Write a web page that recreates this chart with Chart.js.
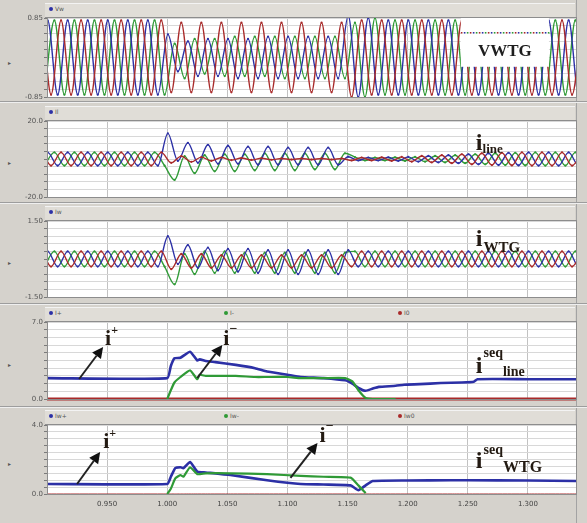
<!DOCTYPE html>
<html><head><meta charset="utf-8">
<script src="https://cdn.jsdelivr.net/npm/chart.js@4.4.1/dist/chart.umd.min.js"></script>
<style>
html,body{margin:0;padding:0;}
body{width:587px;height:523px;background:#d5d2cc;position:relative;overflow:hidden;font-family:"DejaVu Sans",sans-serif;}
.hdr{position:absolute;left:45px;width:530px;height:13px;background:#e0ddd7;border-bottom:1px solid #8e8e8e;border-top:1px solid #f3f3f3;}
.sep{position:absolute;left:0;width:587px;height:0;border-top:1px solid #9d9d9d;border-bottom:1px solid #efefef;}
.rline{position:absolute;left:576px;top:0;width:0;height:523px;border-left:1px solid #a3a3a3;}
canvas{position:absolute;left:0;}
.leg{position:absolute;font-size:6px;line-height:6px;color:#555;white-space:nowrap;}
.leg i{display:inline-block;width:4px;height:4px;border-radius:2px;margin-right:2px;vertical-align:middle;}
.mk{position:absolute;left:8px;font-size:6px;line-height:6px;color:#555;}
</style></head><body>
<div class="rline"></div>
<div class="hdr" style="top:3px"></div>
<div class="hdr" style="top:106px"></div>
<div class="hdr" style="top:206px"></div>
<div class="hdr" style="top:307px"></div>
<div class="hdr" style="top:410px"></div>
<div class="sep" style="top:101px"></div>
<div class="sep" style="top:202px"></div>
<div class="sep" style="top:303px"></div>
<div class="sep" style="top:406px"></div>
<div class="leg" style="left:49px;top:6px"><i style="background:#2c30a6"></i>Vw</div>
<div class="leg" style="left:49px;top:109px"><i style="background:#2c30a6"></i>Il</div>
<div class="leg" style="left:49px;top:209px"><i style="background:#2c30a6"></i>Iw</div>
<div class="leg" style="left:49px;top:310px"><i style="background:#2c30a6"></i>I+</div>
<div class="leg" style="left:224px;top:310px"><i style="background:#2f9a36"></i>I-</div>
<div class="leg" style="left:398px;top:310px"><i style="background:#a92a2a"></i>I0</div>
<div class="leg" style="left:49px;top:413px"><i style="background:#2c30a6"></i>Iw+</div>
<div class="leg" style="left:224px;top:413px"><i style="background:#2f9a36"></i>Iw-</div>
<div class="leg" style="left:398px;top:413px"><i style="background:#a92a2a"></i>Iw0</div>
<div class="mk" style="top:60px">&#9656;</div>
<div class="mk" style="top:160px">&#9656;</div>
<div class="mk" style="top:260px">&#9656;</div>
<div class="mk" style="top:362px">&#9656;</div>
<div class="mk" style="top:461px">&#9656;</div>
<script>
// ================= DATA =================
const timeTicks = [0.95, 1.00, 1.05, 1.10, 1.15, 1.20, 1.25, 1.30];
const HALF = 1 / 120;                 // spacing of successive extremes of one phase (s)
const startA = 0.8922, startB = 0.8978, startC = 0.8867; // time of first extreme per phase

// Panel 1: V_WTG, extremes per phase (pre-fault | fault | post-fault)
const vwtgA = [-0.8,0.8,-0.8,0.8,-0.8,0.8,-0.8,0.8,-0.8,0.8,-0.8,0.8,-0.8,
  0.5,-0.3,0.35,-0.4,0.4,-0.4,0.4,-0.45,0.4,-0.45,0.45,-0.45,0.45,-0.45,0.45,-0.45,0.45,-0.45,
  0.9,-0.85,0.85,-0.8,0.8,-0.8,0.8,-0.8,0.8,-0.8,0.8,-0.8,0.8,-0.8,0.8,-0.8,0.8,-0.8,0.8,-0.8,0.8,-0.8,0.8,-0.8,0.8];
const vwtgB = [-0.8,0.8,-0.8,0.8,-0.8,0.8,-0.8,0.8,-0.8,0.8,-0.8,0.8,-0.8,
  0.3,-0.45,0.4,-0.35,0.4,-0.4,0.45,-0.4,0.45,-0.4,0.45,-0.45,0.45,-0.45,0.45,-0.45,0.45,-0.45,
  0.75,-0.85,0.85,-0.8,0.8,-0.8,0.8,-0.8,0.8,-0.8,0.8,-0.8,0.8,-0.8,0.8,-0.8,0.8,-0.8,0.8,-0.8,0.8,-0.8,0.8,-0.8,0.8];
const vwtgC = [-0.8,0.8,-0.8,0.8,-0.8,0.8,-0.8,0.8,-0.8,0.8,-0.8,0.8,-0.8,0.8,
  -0.75,0.75,-0.75,0.75,-0.75,0.75,-0.75,0.75,-0.75,0.75,-0.75,0.75,-0.75,0.75,-0.75,0.75,-0.75,0.75,
  -0.85,0.8,-0.8,0.8,-0.8,0.8,-0.8,0.8,-0.8,0.8,-0.8,0.8,-0.8,0.8,-0.8,0.8,-0.8,0.8,-0.8,0.8,-0.8,0.8,-0.8,0.8];

// Panel 2: i_line
const ilineA = [-3.5,3.5,-3.5,3.5,-3.5,3.5,-3.5,3.5,-3.5,3.5,-3.5,3.5,-3.5,
  13.5,-1,8.5,-2,7.5,-2.5,7,-2.5,6.5,-3,6.5,-3,6,-3,6,-3,6,-3,
  1.2,-0.8,0.8,-0.8,0.9,-1,1.1,-1.4,1.6,-1.8,2,-2.2,2.5,-2.8,3,-3.2,3.3,-3.4,3.5,-3.5,3.5,-3.5,3.5,-3.5,3.5];
const ilineB = [-3.5,3.5,-3.5,3.5,-3.5,3.5,-3.5,3.5,-3.5,3.5,-3.5,3.5,-3.5,
  -11,1.5,-7.5,2,-6.5,2.5,-6.5,2.5,-6,3,-6,3,-6,3,-5.5,3,-5.5,3,
  1,-0.8,0.8,-0.8,0.9,-1,1.1,-1.4,1.6,-1.8,2,-2.2,2.5,-2.8,3,-3.2,3.3,-3.4,3.5,-3.5,3.5,-3.5,3.5,-3.5,3.5];
const ilineC = [-3.5,3.5,-3.5,3.5,-3.5,3.5,-3.5,3.5,-3.5,3.5,-3.5,3.5,-3.5,3.5,
  -2,1.5,-1.5,1,-1,0.8,-0.6,0.5,-0.5,0.4,-0.4,0.3,-0.3,0.3,-0.3,0.3,-0.3,0.3,
  -0.8,0.8,-0.8,0.9,-1,1.1,-1.4,1.6,-1.8,2,-2.2,2.5,-2.8,3,-3.2,3.3,-3.4,3.5,-3.5,3.5,-3.5,3.5,-3.5,3.5];

// Panel 3: i_WTG
const iwtgA = [-0.3,0.3,-0.3,0.3,-0.3,0.3,-0.3,0.3,-0.3,0.3,-0.3,0.3,-0.3,
  0.9,-0.2,0.55,-0.35,0.45,-0.45,0.4,-0.5,0.4,-0.55,0.35,-0.6,0.35,-0.6,0.35,-0.6,0.35,-0.6,
  0.35,-0.3,0.3,-0.3,0.3,-0.3,0.3,-0.3,0.3,-0.3,0.3,-0.3,0.3,-0.3,0.3,-0.3,0.3,-0.3,0.3,-0.3,0.3,-0.3,0.3,-0.3,0.3];
const iwtgB = [-0.3,0.3,-0.3,0.3,-0.3,0.3,-0.3,0.3,-0.3,0.3,-0.3,0.3,-0.3,
  -1.0,0.2,-0.6,0.3,-0.55,0.3,-0.55,0.25,-0.55,0.25,-0.55,0.25,-0.55,0.25,-0.55,0.25,-0.55,0.25,
  0.3,-0.3,0.3,-0.3,0.3,-0.3,0.3,-0.3,0.3,-0.3,0.3,-0.3,0.3,-0.3,0.3,-0.3,0.3,-0.3,0.3,-0.3,0.3,-0.3,0.3,-0.3,0.3];
const iwtgC = [-0.3,0.3,-0.3,0.3,-0.3,0.3,-0.3,0.3,-0.3,0.3,-0.3,0.3,-0.3,0.3,
  -0.4,0.2,-0.35,0.2,-0.35,0.15,-0.35,0.15,-0.35,0.15,-0.35,0.15,-0.35,0.15,-0.35,0.15,-0.35,0.15,
  -0.3,0.3,-0.3,0.3,-0.3,0.3,-0.3,0.3,-0.3,0.3,-0.3,0.3,-0.3,0.3,-0.3,0.3,-0.3,0.3,-0.3,0.3,-0.3,0.3,-0.3,0.3];

// Panel 4: sequence currents of the line
const seqLineTime = [0.9,1.0,1.003,1.006,1.011,1.019,1.025,1.027,1.032,1.04,1.057,1.073,1.083,1.1,1.111,1.13,1.148,1.154,1.159,1.165,1.171,1.176,1.19,1.197,1.21,1.2275,1.245,1.255,1.258,1.3,1.34];
const seqLinePos  = [1.9,1.9,3.0,3.7,3.75,4.3,3.5,3.6,3.45,3.35,3.1,2.8,2.5,2.2,2.0,1.9,1.7,1.4,1.0,0.75,0.95,1.1,1.2,1.3,1.35,1.45,1.5,1.57,1.8,1.8,1.8];
const seqLineNeg  = [null,0,0.8,1.5,2.0,2.6,1.8,2.2,2.1,2.1,2.1,2.0,2.0,2.0,1.9,1.9,1.9,1.6,0.8,0.1,0,0,0,null,null,null,null,null,null,null,null];
const seqLineZero = [0,0,0,0,0,0,0,0,0,0,0,0,0,0,0,0,0,0,0,0,0,0,0,0,0,0,0,0,0,0,0];

// Panel 5: sequence currents of the WTG
const seqWtgTime = [0.9,1.0,1.003,1.0067,1.011,1.0135,1.019,1.025,1.032,1.0525,1.083,1.111,1.13,1.1525,1.159,1.165,1.171,1.2,1.236,1.25,1.3,1.34];
const seqWtgPos  = [0.58,0.58,1.0,1.5,1.55,1.5,1.85,1.3,1.25,1.1,0.8,0.58,0.55,0.5,0.22,0.5,0.75,0.78,0.8,0.8,0.78,0.75];
const seqWtgNeg  = [null,0,0.3,0.9,1.1,1.0,1.55,1.15,1.2,1.2,1.15,1.05,1.0,0.95,0.5,0.05,null,null,null,null,null,null];
const seqWtgZero = [0,0,0,0,0,0,0,0,0,0,0,0,0,0,0,0,0,0,0,0,0,0];

// ================= RENDERING =================
const COL = {blue:'#2c30a6', green:'#2f9a36', red:'#a92a2a'};
const SERIF = '"Liberation Serif","DejaVu Serif",serif';

function waveSet(label, t0, vals, color, order){
  return {label, data: vals.map((v,j)=>({x: t0 + j*HALF, y: v})), borderColor: color,
    backgroundColor: color, borderWidth: 1.4, pointRadius: 1.1, pointBorderWidth: 0,
    pointBackgroundColor: color, cubicInterpolationMode: 'monotone', order};
}
function seqSet(label, times, vals, color, width, order, extra){
  return Object.assign({label, data: times.map((t,i)=>({x:t, y:vals[i]})), borderColor: color,
    backgroundColor: color, borderWidth: width, pointRadius: 0, tension: 0.15, order}, extra || {});
}

const framePlugin = {
  id:'frame',
  beforeDraw(chart){
    const {ctx, chartArea:a} = chart;
    ctx.save(); ctx.fillStyle = '#ffffff';
    ctx.fillRect(a.left, a.top, a.right - a.left, a.bottom - a.top); ctx.restore();
  },
  afterDraw(chart){
    const {ctx, chartArea:a} = chart;
    ctx.save(); ctx.strokeStyle = '#8d8d8d'; ctx.lineWidth = 1;
    ctx.strokeRect(Math.round(a.left)+0.5, Math.round(a.top)-0.5, Math.round(a.right-a.left), Math.round(a.bottom-a.top)+1);
    ctx.restore();
  }
};

const annotPlugin = {
  id:'annot',
  afterDatasetsDraw(chart, args, o){
    const ctx = chart.ctx, X = chart.scales.x, Y = chart.scales.y;
    const px = t => X.getPixelForValue(t), py = v => Y.getPixelForValue(v);
    ctx.save();
    if (o.box){
      const b = o.box, l = px(b.x0), r = px(b.x1), t = py(b.y1), bt = py(b.y0);
      ctx.fillStyle = '#ffffff'; ctx.fillRect(l, t, r - l, bt - t);
      const dy = Math.round(py(b.dot)); const cols = [COL.red, COL.blue, COL.green]; let k = 0;
      for (let x = l; x < r; x += 3){ ctx.fillStyle = cols[k++ % 3]; ctx.fillRect(x, dy - 1, 1.6, 1.6); }
      ctx.fillStyle = '#1e1e1e'; ctx.font = `bold ${b.size}px ${SERIF}`; ctx.textAlign = 'center';
      ctx.textBaseline = 'alphabetic';
      ctx.fillText(b.text, (l + r) / 2, py(b.textV));
      ctx.textAlign = 'left';
    }
    (o.arrows || []).forEach(a => {
      const x1 = px(a.from[0]), y1 = py(a.from[1]), x2 = px(a.to[0]), y2 = py(a.to[1]);
      const ang = Math.atan2(y2 - y1, x2 - x1), hl = 11, hw = 5.5;
      const bx = x2 - hl * Math.cos(ang), by = y2 - hl * Math.sin(ang);
      ctx.strokeStyle = '#222'; ctx.fillStyle = '#111'; ctx.lineWidth = 2;
      ctx.beginPath(); ctx.moveTo(x1, y1); ctx.lineTo(bx, by); ctx.stroke();
      ctx.beginPath(); ctx.moveTo(x2, y2);
      ctx.lineTo(bx + hw * Math.sin(ang), by - hw * Math.cos(ang));
      ctx.lineTo(bx - hw * Math.sin(ang), by + hw * Math.cos(ang));
      ctx.closePath(); ctx.fill();
    });
    (o.labels || []).forEach(l => {
      let x = px(l.t); const y = py(l.v);
      ctx.textBaseline = 'alphabetic'; ctx.textAlign = 'left';
      l.parts.forEach(p => {
        ctx.font = `bold ${p.size}px ${SERIF}`; ctx.fillStyle = '#231a12';
        ctx.fillText(p.text, x, y + (p.dy || 0));
        x += ctx.measureText(p.text).width + (p.gap || 0);
      });
    });
    ctx.restore();
  }
};

const panels = [
  {top:18, h:79, min:-0.85, max:0.85, dec:2,
   datasets:[waveSet('Va', startA, vwtgA, COL.blue, 1), waveSet('Vb', startB, vwtgB, COL.green, 2), waveSet('Vc', startC, vwtgC, COL.red, 0)],
   ann:{box:{x0:1.2442, x1:1.3175, y0:-0.2, y1:0.85, dot:0.52, text:'VWTG', size:17, textV:0.03}}},
  {top:121, h:76, min:-20, max:20, dec:1,
   datasets:[waveSet('Ia', startA, ilineA, COL.blue, 1), waveSet('Ib', startB, ilineB, COL.green, 2), waveSet('Ic', startC, ilineC, COL.red, 0)],
   ann:{labels:[{t:1.2567, v:4.8, parts:[{text:'i', size:24}, {text:'line', size:13, dy:3}]}]}},
  {top:221, h:76, min:-1.5, max:1.5, dec:2,
   datasets:[waveSet('Ia', startA, iwtgA, COL.blue, 1), waveSet('Ib', startB, iwtgB, COL.green, 2), waveSet('Ic', startC, iwtgC, COL.red, 0)],
   ann:{labels:[{t:1.2567, v:0.5, parts:[{text:'i', size:24, gap:1}, {text:'WTG', size:15, dy:6}]}]}},
  {top:322, h:77, min:0, max:7, dec:1,
   datasets:[seqSet('I+', seqLineTime, seqLinePos, COL.blue, 2.6, 1),
             seqSet('I-', seqLineTime, seqLineNeg, COL.green, 2.2, 0),
             seqSet('I0', seqLineTime, seqLineZero, COL.red, 3, 2, {clip:4})],
   ann:{arrows:[{from:[0.9267,1.82], to:[0.9467,4.73]}, {from:[1.025,1.91], to:[1.0458,4.91]}],
        labels:[{t:0.9483, v:4.9, parts:[{text:'i', size:22}, {text:'+', size:12, dy:-11}]},
                {t:1.0467, v:4.9, parts:[{text:'i', size:22}, {text:'\u2212', size:14, dy:-12}]},
                {t:1.2567, v:2.36, parts:[{text:'i', size:24, gap:1}, {text:'seq', size:14, dy:-16}, {text:'line', size:14, dy:3}]}]}},
  {top:425, h:69, min:0, max:4, dec:1,
   datasets:[seqSet('Iw+', seqWtgTime, seqWtgPos, COL.blue, 2.6, 1),
             seqSet('Iw-', seqWtgTime, seqWtgNeg, COL.green, 2.2, 0),
             seqSet('Iw0', seqWtgTime, seqWtgZero, COL.red, 1, 2)],
   ann:{arrows:[{from:[0.925,0.58], to:[0.9442,2.43]}, {from:[1.1025,0.93], to:[1.125,2.96]}],
        labels:[{t:0.9467, v:2.67, parts:[{text:'i', size:22}, {text:'+', size:12, dy:-11}]},
                {t:1.1267, v:3.0, parts:[{text:'i', size:22}, {text:'\u2212', size:14, dy:-12}]},
                {t:1.2567, v:1.51, parts:[{text:'i', size:24, gap:1}, {text:'seq', size:14, dy:-14}, {text:'WTG', size:16, dy:4}]}]}}
];

panels.forEach((p, idx) => {
  const last = idx === panels.length - 1;
  const padT = 10, padB = last ? 0 : 10, axisH = last ? 24 : 0;
  const cv = document.createElement('canvas');
  const H = padT + p.h + padB + axisH;
  cv.width = 587; cv.height = H;
  cv.style.width = '587px'; cv.style.height = H + 'px';
  cv.style.top = (p.top - padT) + 'px';
  document.body.appendChild(cv);
  new Chart(cv, {
    type: 'line',
    data: {datasets: p.datasets},
    options: {
      responsive: false, animation: false, devicePixelRatio: 1,
      layout: {padding: {top: padT, bottom: padB, left: 0, right: 11}},
      plugins: {legend: {display: false}, tooltip: {enabled: false}, annot: p.ann},
      scales: {
        x: {type: 'linear', min: 0.9, max: 1.34,
            afterBuildTicks: s => { s.ticks = timeTicks.map(v => ({value: v})); },
            afterFit: s => { s.height = axisH; },
            ticks: {display: last, autoSkip: false, maxRotation: 0, padding: 6,
                    font: {size: 7, family: 'DejaVu Sans'}, color: '#444',
                    callback: v => Number(v).toFixed(3)},
            grid: {color: '#c2c2c2', lineWidth: 1, drawTicks: false},
            border: {display: false}},
        y: {type: 'linear', min: p.min, max: p.max,
            afterBuildTicks: s => { const n = 10; s.ticks = Array.from({length: n + 1}, (_, i) => ({value: p.min + (p.max - p.min) * i / n})); },
            afterFit: s => { s.width = 47; },
            ticks: {autoSkip: false, padding: 1, font: {size: 7, family: 'DejaVu Sans'}, color: '#555',
                    callback: (v, i, t) => (i === 0 || i === t.length - 1) ? Number(v).toFixed(p.dec) : ''},
            grid: {color: '#d8d8d8', tickLength: 3, tickColor: '#7a7a7a'},
            border: {display: true, color: '#808080'}}
      }
    },
    plugins: [framePlugin, annotPlugin]
  });
});
</script>
</body></html>
